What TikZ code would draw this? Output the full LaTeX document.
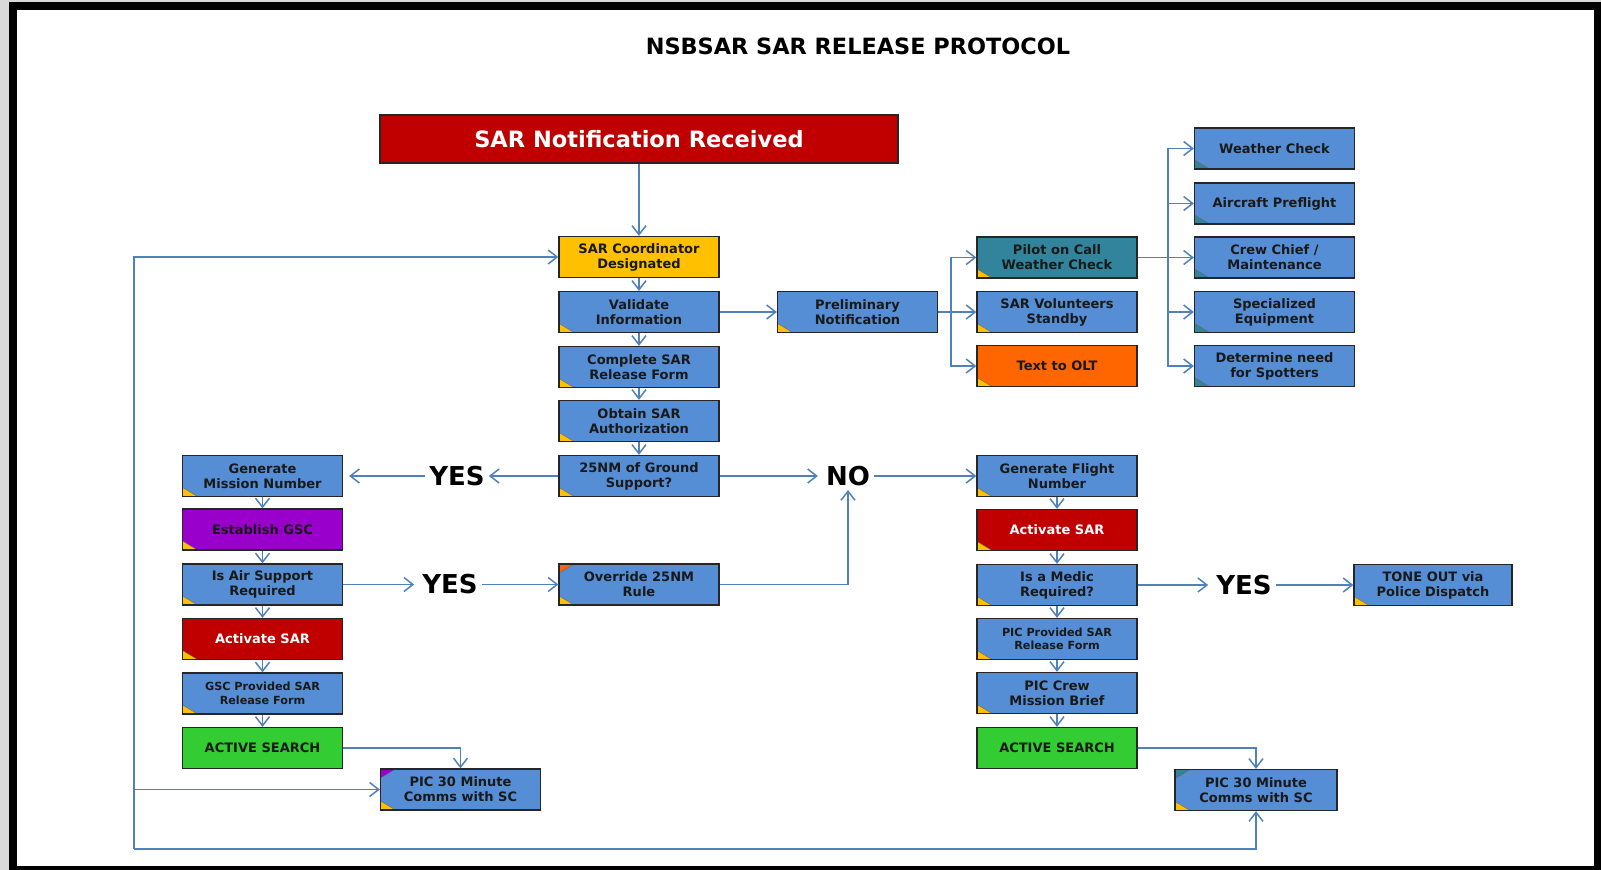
\documentclass[tikz,border=0pt]{standalone}
\usepackage{fontspec}
\setsansfont{DejaVu Sans}
\usepackage{tikz}
\usetikzlibrary{arrows.meta,positioning,calc}
\usepackage{xcolor}

\definecolor{boxblue}{RGB}{85,142,213}
\definecolor{flagyellow}{RGB}{255,192,0}
\definecolor{alertred}{RGB}{192,0,0}
\definecolor{pilotteal}{RGB}{49,132,155}
\definecolor{oltorange}{RGB}{255,102,0}
\definecolor{gscpurple}{RGB}{153,0,204}
\definecolor{searchgreen}{RGB}{51,204,51}
\definecolor{linkblue}{RGB}{79,129,189}
\definecolor{framegray}{RGB}{217,217,217}

\tikzset{
  box/.style={draw=black!85, line width=1.3pt, fill=boxblue, minimum width=160pt,
    minimum height=41pt, inner sep=0pt, align=center, text=black!90,
    font=\sffamily\bfseries\fontsize{13}{15}\selectfont},
  smalltext/.style={font=\sffamily\bfseries\fontsize{11.2}{13.5}\selectfont},
  lowflag/.style={path picture={
    \fill[#1, draw=black!60, line width=0.4pt] (path picture bounding box.south west)
      -- ++(15pt,0pt) -- ++(-15pt,9pt) -- cycle;}},
  lowflag/.default=flagyellow,
  twoflag/.style={path picture={
    \fill[#1, draw=black!60, line width=0.4pt] (path picture bounding box.north west)
      -- ++(15pt,0pt) -- ++(-15pt,-9pt) -- cycle;
    \fill[flagyellow, draw=black!60, line width=0.4pt] (path picture bounding box.south west)
      -- ++(15pt,0pt) -- ++(-15pt,9pt) -- cycle;}},
  answer/.style={inner sep=4pt, font=\sffamily\bfseries\fontsize{26}{26}\selectfont},
  link/.style={draw=linkblue, line width=1.5pt},
  arr/.style={link, -{Straight Barb[length=9pt, width=14pt]}}
}

\begin{document}
\begin{tikzpicture}[x=1pt, y=-1pt]
    % Frame
    \fill[framegray] (0,0) rectangle (1601,870);
    \fill[black] (9,2) rectangle (1601,870);
    \fill[white] (17,10) rectangle (1594,866);

    \node (title) at (858,46) {\sffamily\bfseries\fontsize{22.4}{24}\selectfont NSBSAR SAR RELEASE PROTOCOL};

    % Main column
    \node[box, fill=alertred, text=white, minimum width=518pt, minimum height=48pt,
      font=\sffamily\bfseries\fontsize{22.5}{24}\selectfont] (notif) at (639,139) {SAR Notification Received};
    \node[box, fill=flagyellow] (coord) at (639,257) {SAR Coordinator\\Designated};
    \node[box, lowflag] (validate) at (639,312) {Validate\\Information};
    \node[box, lowflag] (complete) at (639,367) {Complete SAR\\Release Form};
    \node[box, lowflag] (obtain) at (639,421) {Obtain SAR\\Authorization};
    \node[box, lowflag] (ground) at (639,476) {25NM of Ground\\Support?};
    \node[box, twoflag=oltorange] (override) at (639,584.5) {Override 25NM\\Rule};

    % Notification branch
    \node[box, lowflag] (prelim) at (857.5,312) {Preliminary\\Notification};
    \node[box, lowflag, fill=pilotteal] (pilot) at (1057,257.5) {Pilot on Call\\Weather Check};
    \node[box, lowflag] (volunteers) at (1057,312) {SAR Volunteers\\Standby};
    \node[box, lowflag, fill=oltorange] (olt) at (1057,366) {Text to OLT};

    \node[box, lowflag=pilotteal] (weather) at (1274.5,148.5) {Weather Check};
    \node[box, lowflag=pilotteal] (preflight) at (1274.5,203.5) {Aircraft Preflight};
    \node[box, lowflag=pilotteal] (crew) at (1274.5,257.5) {Crew Chief /\\Maintenance};
    \node[box, lowflag=pilotteal] (special) at (1274.5,312) {Specialized\\Equipment};
    \node[box, lowflag=pilotteal] (spotters) at (1274.5,366) {Determine need\\for Spotters};

    % Ground branch
    \node[box, lowflag] (mission) at (262.5,476) {Generate\\Mission Number};
    \node[box, lowflag, fill=gscpurple] (gsc) at (262.5,529.5) {Establish GSC};
    \node[box, lowflag] (airsupport) at (262.5,584.5) {Is Air Support\\Required};
    \node[box, lowflag, fill=alertred, text=white] (activateG) at (262.5,639) {Activate SAR};
    \node[box, lowflag, smalltext] (gscform) at (262.5,693.5) {GSC Provided SAR\\Release Form};
    \node[box, fill=searchgreen] (searchG) at (262.5,748) {ACTIVE SEARCH};
    \node[box, twoflag=gscpurple] (commsG) at (460.5,789.5) {PIC 30 Minute\\Comms with SC};

    % Flight branch
    \node[box, lowflag] (flight) at (1057,476) {Generate Flight\\Number};
    \node[box, lowflag, fill=alertred, text=white] (activateF) at (1057,530) {Activate SAR};
    \node[box, lowflag] (medic) at (1057,585) {Is a Medic\\Required?};
    \node[box, lowflag, smalltext] (picform) at (1057,639) {PIC Provided SAR\\Release Form};
    \node[box, lowflag] (brief) at (1057,693) {PIC Crew\\Mission Brief};
    \node[box, fill=searchgreen] (searchF) at (1057,748) {ACTIVE SEARCH};
    \node[box, twoflag=pilotteal, minimum width=162pt] (commsF) at (1256,790) {PIC 30 Minute\\Comms with SC};
    \node[box, lowflag, minimum width=158pt] (tone) at (1433,585) {TONE OUT via\\Police Dispatch};

    % Answers
    \node[answer] (yesG) at (457,476) {YES};
    \node[answer] (no) at (848,476) {NO};
    \node[answer] (yesA) at (450,584.5) {YES};
    \node[answer] (yesM) at (1244,585) {YES};

    % Connectors
    \draw[arr] (notif) -- (coord);
    \draw[arr] (coord) -- (validate);
    \draw[arr] (validate) -- (complete);
    \draw[arr] (complete) -- (obtain);
    \draw[arr] (obtain) -- (ground);
    \draw[arr] (validate) -- (prelim);

    \coordinate (midfork) at (951,312);
    \draw[arr] (prelim) -- (volunteers);
    \draw[arr] (midfork) |- (pilot.west);
    \draw[arr] (midfork) |- (olt.west);

    \coordinate (rightfork) at (1168,257.5);
    \draw[arr] (pilot) -- (crew);
    \draw[arr] (rightfork) |- (weather.west);
    \draw[arr] (rightfork) |- (preflight.west);
    \draw[arr] (rightfork) |- (special.west);
    \draw[arr] (rightfork) |- (spotters.west);

    \draw[arr] (ground) -- (yesG);
    \draw[arr, shorten >=6pt] (yesG) -- (mission);
    \draw[arr, shorten >=4pt] (ground) -- (no);
    \draw[arr] (no) -- (flight);

    \draw[arr] (mission) -- (gsc);
    \draw[arr] (gsc) -- (airsupport);
    \draw[arr] (airsupport) -- (activateG);
    \draw[arr] (activateG) -- (gscform);
    \draw[arr] (gscform) -- (searchG);
    \draw[arr, shorten >=4pt] (airsupport) -- (yesA);
    \draw[arr] (yesA) -- (override);
    \draw[arr] (override.east) -| (no.south);
    \draw[arr] (searchG.east) -| (commsG.north);

    \draw[arr] (flight) -- (activateF);
    \draw[arr] (activateF) -- (medic);
    \draw[arr] (medic) -- (picform);
    \draw[arr] (picform) -- (brief);
    \draw[arr] (brief) -- (searchF);
    \draw[arr, shorten >=4pt] (medic) -- (yesM);
    \draw[arr] (yesM) -- (tone);
    \draw[arr] (searchF.east) -| (commsF.north);

    % Return loop
    \coordinate (loopcorner) at (134,849);
    \draw[arr] (loopcorner) |- (coord.west);
    \draw[arr] (loopcorner) -| (commsF.south);
    \draw[arr] (loopcorner |- commsG.west) -- (commsG.west);
\end{tikzpicture}
\end{document}
